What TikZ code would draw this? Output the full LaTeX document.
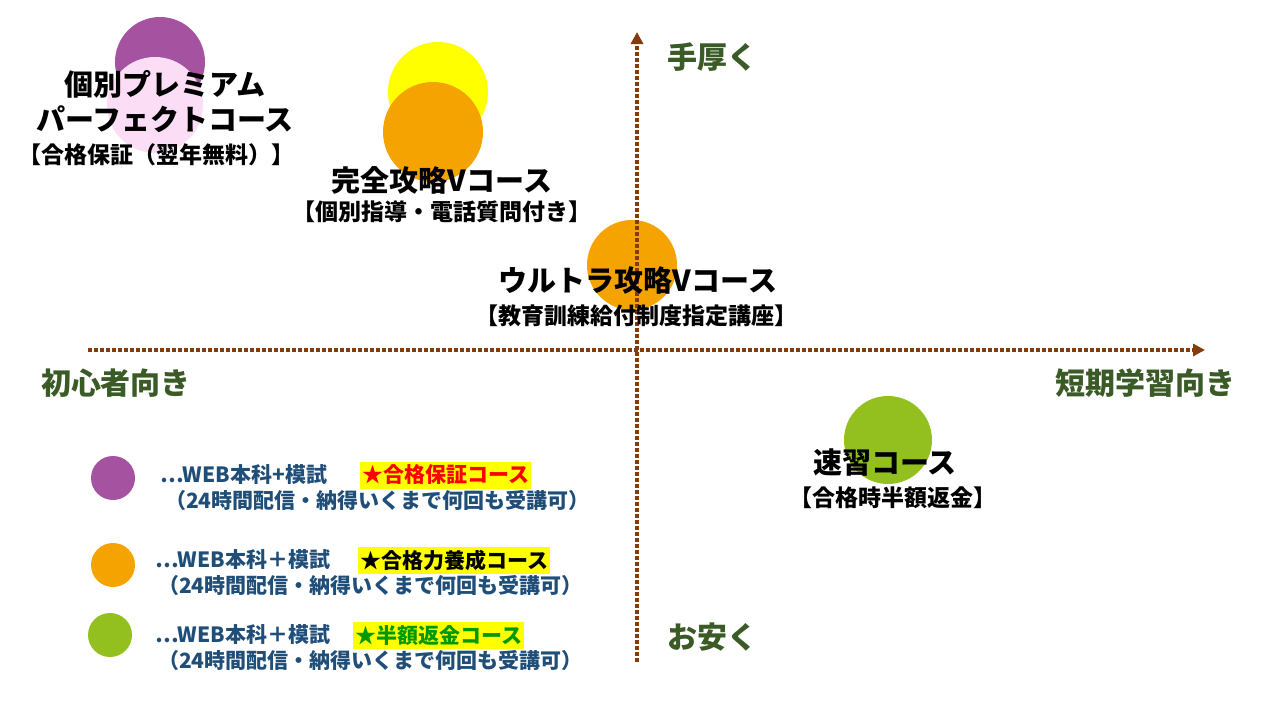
\documentclass[tikz,border=0pt]{standalone}
\usepackage{fontspec}
\setmainfont{Noto Sans CJK JP}
\usetikzlibrary{arrows.meta}
\definecolor{axbrown}{HTML}{843C0C}
\definecolor{lblgreen}{HTML}{3A5A26}
\definecolor{legblue}{HTML}{1F4E79}
\definecolor{cpurple}{HTML}{A552A0}
\definecolor{cpink}{HTML}{FBDDF6}
\definecolor{corange}{HTML}{F5A300}
\definecolor{cyellow}{HTML}{FFFF00}
\definecolor{cgreen}{HTML}{93C01F}
\tikzset{
 ax/.style={axbrown,line width=4pt,dotted,-{Triangle[length=12pt,width=12pt]}},
 axlbl/.style={text=lblgreen,font=\bfseries\fontsize{30pt}{32pt}\selectfont},
 ttl/.style={font=\bfseries\fontsize{29pt}{35pt}\selectfont,align=center},
 sub/.style={font=\bfseries\fontsize{23pt}{26pt}\selectfont},
 leg/.style={text=legblue,font=\bfseries\fontsize{21pt}{24pt}\selectfont,anchor=west,inner sep=0pt},
 hl/.style={fill=cyellow,font=\bfseries\fontsize{21pt}{24pt}\selectfont,anchor=west,inner sep=2pt,minimum height=27pt}
}
\begin{document}
\begin{tikzpicture}[x=1pt,y=-1pt]
\useasboundingbox (0,0) rectangle (1280,720);
% blobs
\fill[cpurple] (160,62) circle (45);
\fill[cpink] (155,105) circle (48);
\fill[cyellow] (438,92) circle (50);
\fill[corange] (433,132) circle (50);
\fill[corange] (632,265) circle (45);
\fill[cgreen] (888,440) circle (44);
\fill[cpurple] (113,478) circle (22);
\fill[corange] (113,565) circle (22);
\fill[cgreen] (110,635) circle (22);
% axes
\coordinate (l) at (88,350); \coordinate (r) at (1205,350);
\coordinate (b) at (637,662); \coordinate (t) at (637,32);
\draw[ax] (l) -- (r);
\draw[ax] (b) -- (t);
\node[axlbl] (hi) at (712,57) {手厚く};
\node[axlbl] (lo) at (712,637) {お安く};
\node[axlbl] (beg) at (116,383) {初心者向き};
\node[axlbl] (sh) at (1145,383) {短期学習向き};
% courses
\node[ttl] (p1) at (165,102) {個別プレミアム\\パーフェクトコース};
\node[sub] (p2) at (157,155) {【合格保証（翌年無料）】};
\node[ttl] (k1) at (442,180) {完全攻略Vコース};
\node[sub] (k2) at (442,212) {【個別指導・電話質問付き】};
\node[ttl] (u1) at (638,280) {ウルトラ攻略Vコース};
\node[sub] (u2) at (636,316) {【教育訓練給付制度指定講座】};
\node[ttl] (s1) at (885,463) {速習コース};
\node[sub] (s2) at (893,498) {【合格時半額返金】};
% legend
\node[leg] (a1) at (160,475) {⋯WEB本科+模試};
\node[hl,text=red] (a2) at (360,475) {★合格保証コース\hspace{1.2em}};
\node[leg] (a3) at (165,501) {（24時間配信・納得いくまで何回も受講可）};
\node[leg] (b1) at (155,560) {⋯WEB本科＋模試};
\node[hl] (b2) at (358,560) {★合格力養成コース\hspace{0.3em}};
\node[leg] (b3) at (158,586) {（24時間配信・納得いくまで何回も受講可）};
\node[leg] (c1) at (155,635) {⋯WEB本科＋模試};
\node[hl,text={green!60!black}] (c2) at (353,635) {★半額返金コース};
\node[leg] (c3) at (158,661) {（24時間配信・納得いくまで何回も受講可）};
\end{tikzpicture}
\end{document}
